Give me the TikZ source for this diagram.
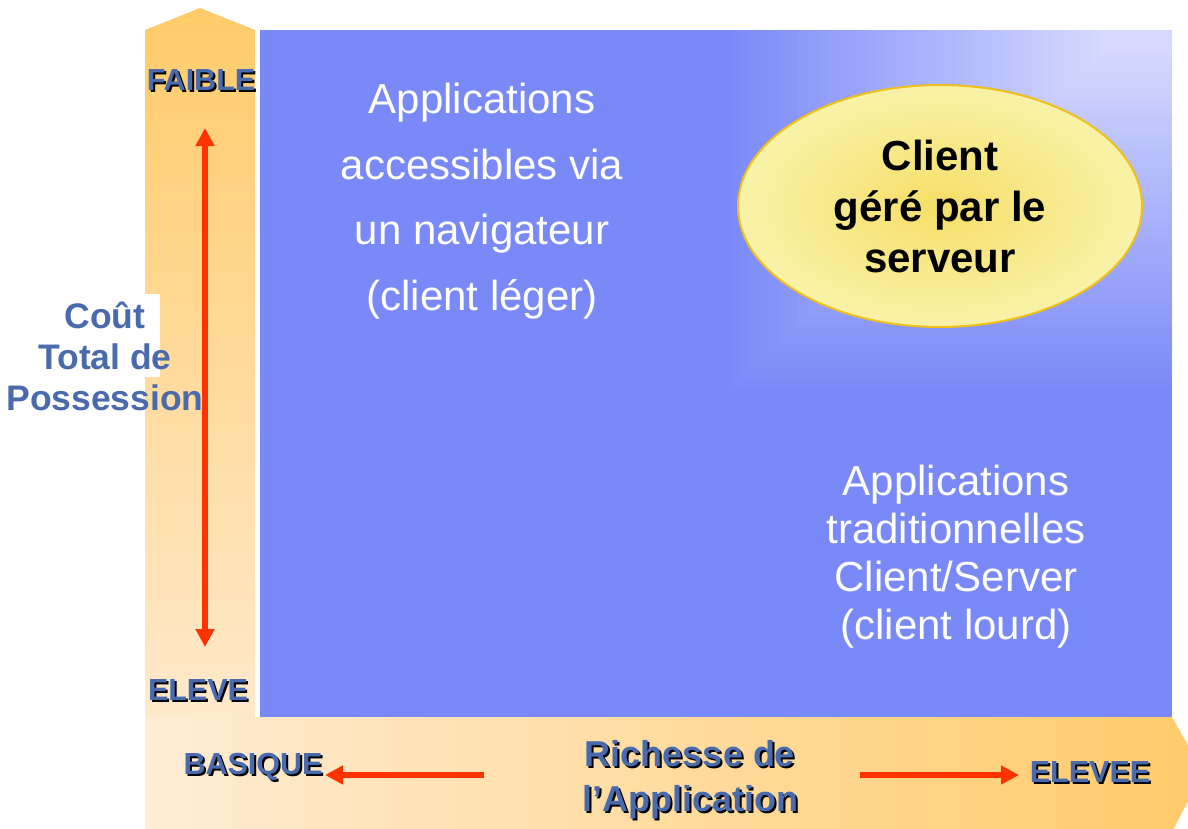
\documentclass[tikz,border=0pt]{standalone}
\usepackage{fontspec}
\setmainfont{Liberation Sans}
\usetikzlibrary{calc,arrows.meta,shapes.geometric}
\definecolor{fondbleu}{RGB}{122,137,248}
\definecolor{coinclair}{RGB}{216,219,253}
\definecolor{orangefonce}{RGB}{255,203,106}
\definecolor{orangeclair}{RGB}{255,236,212}
\definecolor{bleutexte}{RGB}{74,106,174}
\definecolor{rouge}{RGB}{255,51,0}
\definecolor{jaunecentre}{RGB}{246,222,104}
\definecolor{jaunebord}{RGB}{249,242,168}
\definecolor{jaunetrait}{RGB}{240,192,24}
\newcommand{\ombre}[4][]
{   \node[axe texte,#1,text=black] at ($(#3)+(2,2)$) {#4};
    \node[axe texte,#1] (#2) at (#3) {#4};
}

\begin{document}
\begin{tikzpicture}[x=1pt,y=-1pt,>={Triangle[length=18pt,width=18pt]},
  texte blanc/.style={text=white,align=center,font=\fontsize{42}{65.5}\selectfont},
  axe texte/.style={text=bleutexte,align=center,inner sep=0pt,font=\bfseries\fontsize{30.5}{36}\selectfont},
  fleche/.style={draw=rouge,line width=6pt}]

 \path[use as bounding box] (0,0) rectangle (1188,828);
 \clip (0,0) rectangle (1188,828);
 \fill[white] (0,0) rectangle (1188,828);

 \shade[top color=orangefonce,bottom color=orangeclair!92!orangefonce] (145,717) -- (145,30) -- (200,8) -- (255,30) -- (255,717) -- cycle;
 \shade[left color=orangeclair,right color=orangefonce] (145,717) -- (1172,717) -- (1203,772) -- (1172,832) -- (145,832) -- cycle;
 \fill[fondbleu] (260,30) rectangle (1172,717);
 \begin{scope}
   \clip (720,30) rectangle (1172,395);
   \foreach \i in {0,...,39}
   {   \pgfmathsetmacro{\p}{\i*2.5}
       \fill[coinclair!\p!fondbleu] (720+\i*9.75,395-\i*8.75) rectangle (1172,30);
   }
 \end{scope}
 \fill[white] (0,294) rectangle (160,377);

 \node[ellipse,minimum width=404pt,minimum height=242pt,inner sep=0pt,draw=jaunetrait,line width=2pt,
   inner color=jaunecentre,outer color=jaunebord,align=center,
   font=\bfseries\fontsize{42}{51}\selectfont] (client) at (940,206) {Client\\géré par le\\serveur};
 \node[texte blanc] (leger) at (482,201) {Applications\\accessibles via\\un navigateur\\(client léger)};
 \node[texte blanc,font=\fontsize{42}{48}\selectfont] (lourd) at (956,557) {Applications\\traditionnelles\\Client/Server\\(client lourd)};
 \node[text=bleutexte,align=center,font=\bfseries\fontsize{35.5}{41}\selectfont] (cout) at (105,356) {Coût\\Total de\\Possession};

 \ombre{faible}{201,80}{FAIBLE}
 \ombre{eleve}{198,690}{ELEVE}
 \ombre{basique}{253,767}{BASIQUE}
 \ombre{elevee}{1090,772}{ELEVEE}
 \ombre[font=\bfseries\fontsize{36}{45}\selectfont]{richesse}{690,780}{Richesse de\\l’Application}

 \coordinate (haut) at (205,128);
 \coordinate (bas) at (205,647);
 \coordinate (departG) at (484,775);
 \coordinate (pointeG) at (325,775);
 \coordinate (departD) at (860,775);
 \coordinate (pointeD) at (1019,775);
 \draw[fleche,<->] (haut) -- (bas);
 \draw[fleche,->] (departG) -- (pointeG);
 \draw[fleche,->] (departD) -- (pointeD);

\end{tikzpicture}
\end{document}
